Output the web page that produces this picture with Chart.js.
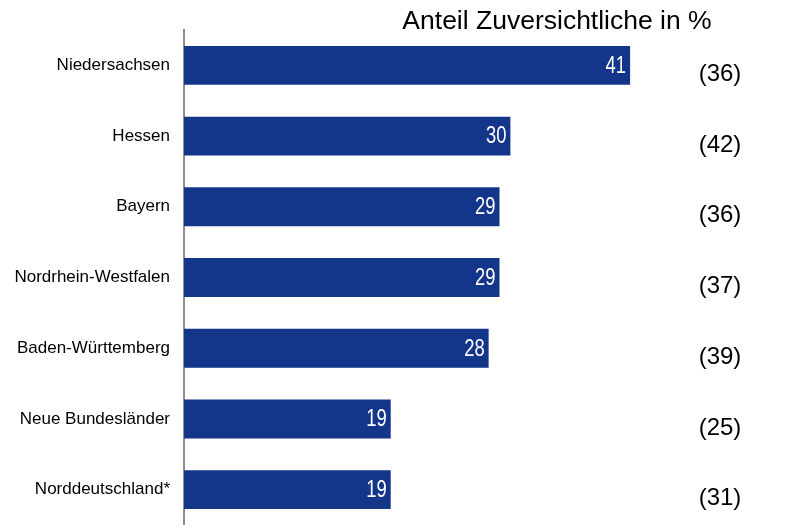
<!DOCTYPE html>
<html>
<head>
<meta charset="utf-8">
<script src="https://cdn.jsdelivr.net/npm/chart.js@4"></script>
<style>
  html, body { margin: 0; padding: 0; background: #fff; overflow: hidden; }
  canvas { display: block; }
</style>
</head>
<body>
<canvas id="chart" width="811" height="525"></canvas>
<script>
const regions = ['Niedersachsen', 'Hessen', 'Bayern', 'Nordrhein-Westfalen', 'Baden-Württemberg', 'Neue Bundesländer', 'Norddeutschland*'];
const shares = [41, 30, 29, 29, 28, 19, 19];
const previous = ['(36)', '(42)', '(36)', '(37)', '(39)', '(25)', '(31)'];
const titleText = 'Anteil Zuversichtliche in %';

const BAR = '#14368a';

// numbers inside the bars, last year's values on the right, title on top
const overlay = {
  id: 'overlay',
  afterDatasetsDraw(chart) {
    const ctx = chart.ctx;
    const meta = chart.getDatasetMeta(0);
    ctx.save();
    ctx.textBaseline = 'middle';
    meta.data.forEach((bar, i) => {
      // condensed look of the original labels
      ctx.save();
      ctx.translate(bar.x - 4, bar.y + 1);
      ctx.scale(0.8, 1);
      ctx.fillStyle = '#fff';
      ctx.textAlign = 'right';
      ctx.font = '23px "Liberation Sans", Arial, sans-serif';
      ctx.fillText(String(shares[i]), 0, 0);
      ctx.restore();

      ctx.fillStyle = '#000';
      ctx.textAlign = 'center';
      ctx.font = '24px "Liberation Sans", Arial, sans-serif';
      ctx.fillText(previous[i], 720, bar.y + 9);
    });
    ctx.fillStyle = '#000';
    ctx.textAlign = 'center';
    ctx.font = '26.5px "Liberation Sans", Arial, sans-serif';
    ctx.fillText(titleText, 557, 22);
    ctx.restore();
  }
};

new Chart(document.getElementById('chart'), {
  type: 'bar',
  data: {
    labels: regions,
    datasets: [{
      data: shares,
      backgroundColor: BAR,
      borderWidth: 0,
      categoryPercentage: 1,
      barPercentage: 0.55
    }]
  },
  options: {
    indexAxis: 'y',
    responsive: false,
    animation: false,
    layout: { padding: { top: 30, right: 83, bottom: 0, left: 0 } },
    plugins: {
      legend: { display: false },
      tooltip: { enabled: false }
    },
    scales: {
      x: {
        display: false,
        min: 0,
        max: 50,
        afterFit(scale) { scale.height = 0; }
      },
      y: {
        afterFit(scale) {
          scale.width = 184;
          scale.paddingTop = 0;
          scale.paddingBottom = 0;
        },
        grid: { display: false, drawTicks: false },
        border: { display: true, color: '#8c8c8c', width: 2 },
        ticks: {
          color: '#000',
          padding: 14,
          font: { family: '"Liberation Sans", Arial, sans-serif', size: 17 }
        }
      }
    }
  },
  plugins: [overlay]
});
</script>
</body>
</html>
